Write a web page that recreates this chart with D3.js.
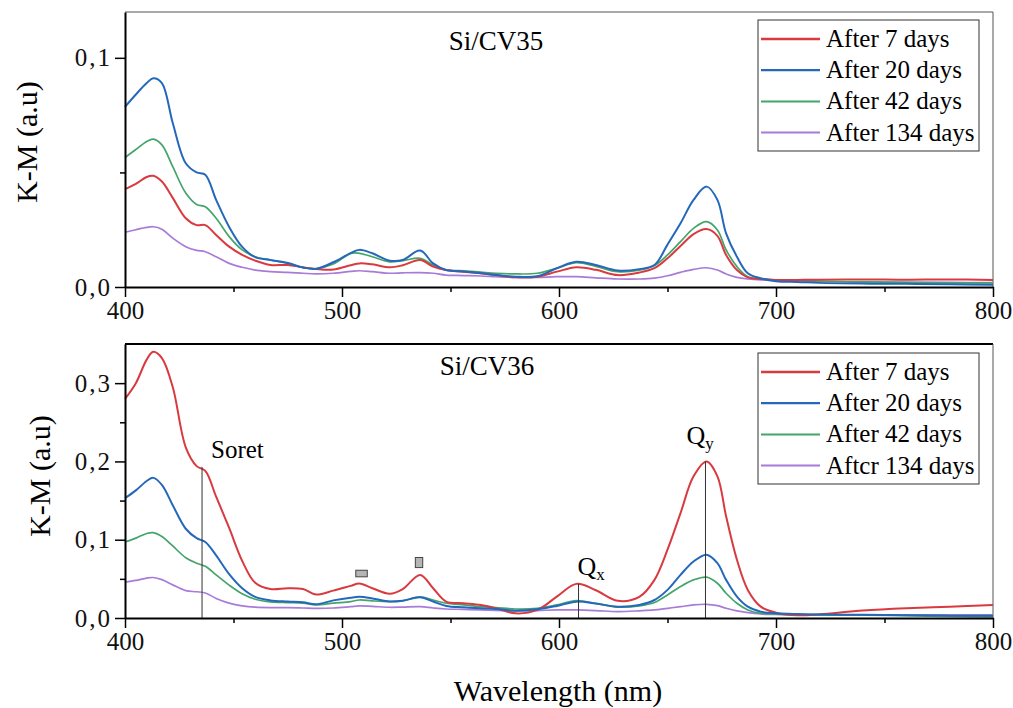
<!DOCTYPE html>
<html>
<head>
<meta charset="utf-8">
<script src="https://cdn.jsdelivr.net/npm/d3@7"></script>
</head>
<body style="margin:0">
<svg id="chart" width="1013" height="708"></svg>
<script>
// ---------------- DATA ----------------
const wavelengths = [400,405,410,413,417,422,428,433,437,442,448,454,460,467,475,482,488,496,504,508,514,522,528,536,542,548,556,564,571,580,590,599,608,617,627,637,644,650,656,662,668,673,677,682,687,693,700,710,720,740,760,780,800];

// Si/CV35
const cv35_7   = [0.0427,0.045,0.048,0.0485,0.046,0.0389,0.030,0.027,0.027,0.0227,0.0176,0.014,0.0115,0.0096,0.0096,0.0086,0.0079,0.0076,0.0095,0.0103,0.0099,0.0086,0.0095,0.0118,0.0089,0.0074,0.0067,0.006,0.0052,0.0042,0.0045,0.0067,0.0086,0.0075,0.0052,0.0063,0.0082,0.0125,0.0179,0.0231,0.0253,0.0223,0.014,0.0074,0.0042,0.0035,0.0031,0.0031,0.0032,0.0033,0.0032,0.0033,0.0031];
const cv35_20  = [0.0786,0.084,0.089,0.0911,0.089,0.0716,0.054,0.050,0.049,0.038,0.0262,0.0175,0.013,0.0118,0.0105,0.0085,0.0079,0.0108,0.0148,0.0162,0.0147,0.0115,0.0118,0.0159,0.0103,0.0074,0.0068,0.006,0.0052,0.0045,0.0047,0.0082,0.011,0.0096,0.0072,0.0078,0.0096,0.0185,0.0278,0.038,0.0438,0.038,0.0234,0.0132,0.006,0.0038,0.0025,0.0022,0.0018,0.0015,0.0014,0.0012,0.001];
const cv35_42  = [0.0565,0.060,0.0635,0.0645,0.062,0.0525,0.041,0.036,0.035,0.030,0.022,0.0162,0.0132,0.0118,0.0103,0.0085,0.008,0.0100,0.0147,0.0147,0.0132,0.011,0.0115,0.0125,0.0096,0.0074,0.0071,0.0065,0.006,0.0057,0.006,0.0082,0.0106,0.009,0.0067,0.0074,0.0094,0.014,0.0198,0.0256,0.0285,0.0249,0.0162,0.0089,0.0045,0.0035,0.003,0.003,0.0025,0.0022,0.002,0.0018,0.0018];
const cv35_134 = [0.0239,0.025,0.026,0.0263,0.0252,0.0213,0.0176,0.016,0.0154,0.0132,0.0103,0.0086,0.0074,0.0067,0.0064,0.006,0.0057,0.006,0.0068,0.0071,0.0067,0.006,0.0062,0.0063,0.006,0.0052,0.005,0.0048,0.0045,0.0042,0.0042,0.0045,0.0045,0.004,0.0035,0.0035,0.0039,0.0049,0.0064,0.0077,0.0084,0.0074,0.0057,0.0042,0.0035,0.0031,0.003,0.0028,0.0025,0.0022,0.002,0.002,0.0019];

// Si/CV36
const cv36_7   = [0.280,0.300,0.330,0.340,0.332,0.295,0.218,0.194,0.188,0.155,0.115,0.073,0.045,0.037,0.038,0.037,0.030,0.035,0.041,0.044,0.038,0.031,0.037,0.055,0.038,0.021,0.0188,0.0165,0.0124,0.006,0.0103,0.0273,0.0436,0.0355,0.022,0.027,0.0487,0.0872,0.134,0.181,0.200,0.181,0.130,0.0744,0.0359,0.0145,0.0068,0.0035,0.0047,0.0095,0.0125,0.0145,0.0167];
const cv36_20  = [0.153,0.163,0.175,0.179,0.170,0.144,0.114,0.102,0.097,0.080,0.056,0.038,0.027,0.0225,0.021,0.020,0.0175,0.0225,0.026,0.027,0.025,0.021,0.022,0.0265,0.021,0.0154,0.0137,0.0124,0.0115,0.0094,0.0111,0.0154,0.0209,0.0185,0.0145,0.0167,0.023,0.0359,0.0551,0.0722,0.0808,0.0701,0.0487,0.0273,0.0145,0.0081,0.006,0.005,0.0045,0.004,0.0035,0.003,0.003];
const cv36_42  = [0.097,0.102,0.108,0.109,0.104,0.092,0.077,0.070,0.066,0.055,0.042,0.031,0.024,0.0205,0.0197,0.019,0.0167,0.019,0.021,0.023,0.0218,0.021,0.022,0.027,0.023,0.0188,0.0167,0.0145,0.0133,0.0115,0.0124,0.0167,0.0222,0.0185,0.014,0.0154,0.0197,0.0295,0.0402,0.0487,0.0522,0.0444,0.0316,0.0188,0.0103,0.006,0.005,0.0045,0.004,0.0035,0.003,0.002,0.0015];
const cv36_134 = [0.0457,0.048,0.051,0.0517,0.049,0.0423,0.035,0.0335,0.032,0.025,0.019,0.0155,0.0138,0.0132,0.0132,0.0128,0.0124,0.0128,0.0145,0.0154,0.0148,0.0137,0.014,0.0145,0.0128,0.0115,0.011,0.0103,0.0098,0.009,0.0095,0.0103,0.0103,0.0095,0.0082,0.0092,0.0103,0.0124,0.0145,0.0167,0.0175,0.0158,0.0124,0.009,0.0068,0.0051,0.0045,0.004,0.004,0.004,0.004,0.004,0.004];

const legend35 = ["After 7 days","After 20 days","After 42 days","After 134 days"];
const legend36 = ["After 7 days","After 20 days","After 42 days","Aftcr 134 days"];
const titles = ["Si/CV35","Si/CV36"];

const xTicks = [400,500,600,700,800];
const xMinorTicks = [450,550,650,750];
const yTicks35 = [0,0.1];
const yMinor35 = [0.05];
const yTicks36 = [0,0.1,0.2,0.3];
const yMinor36 = [0.05,0.15,0.25];

// annotations (bottom panel)
const peakLabels = ["Soret","Q","Q"];
const peakSubs = ["","x","y"];
const peakWl = [435.5,609,667.5];
const peakTop = [0.193,0.0436,0.2];
// small gray markers
const markerWl = [509,535.5];
const markerLo = [0.0526,0.0644];
const markerHi = [0.061,0.0773];
const markerW = [5.3,3.4];

// ---------------- STYLE / LAYOUT ----------------
const FONT = '"Liberation Serif"';
const colors = ["#d93a3f","#2468bb","#45a46a","#a87bd8"];
const widths = [2,2,1.7,1.7];
const xL = 125, xR = 993;
const panels = [
  {top: 12, bottom: 287, ymax: 0.12, ticks: yTicks35, minor: yMinor35, series: [cv35_7,cv35_20,cv35_42,cv35_134], legend: legend35, title: titles[0], titleX: 496, titleY: 50, legTop: 20, ylabX: 37, ylabY: 142, topStroke: "#555", topW: 1},
  {top: 344, bottom: 618, ymax: 0.35, ticks: yTicks36, minor: yMinor36, series: [cv36_7,cv36_20,cv36_42,cv36_134], legend: legend36, title: titles[1], titleX: 487, titleY: 375, legTop: 353, ylabX: 50, ylabY: 476, topStroke: "#000", topW: 2}
];

const svg = d3.select("#chart");
const x = d3.scaleLinear().domain([400,800]).range([xL,xR]);
const fmtY = d => d.toFixed(1).replace(".", ",");

function txt(sel) { return sel.append("text").attr("font-family", FONT).style("font-family", FONT); }

panels.forEach((p, pi) => {
  const y = d3.scaleLinear().domain([0,p.ymax]).range([p.bottom,p.top]);
  const g = svg.append("g");

  g.append("line").attr("x1",xL).attr("x2",xR).attr("y1",p.top).attr("y2",p.top)
    .attr("stroke",p.topStroke).attr("stroke-width",p.topW);
  g.append("line").attr("x1",xR).attr("x2",xR).attr("y1",p.top).attr("y2",p.bottom)
    .attr("stroke","#555").attr("stroke-width",1);

  const line = d3.line().x((d,i)=>x(wavelengths[i])).y(d=>y(d)).curve(d3.curveCatmullRom.alpha(0.5));
  [3,2,0,1].forEach(si => {
    g.append("path").datum(p.series[si]).attr("d",line)
      .attr("fill","none").attr("stroke",colors[si]).attr("stroke-width",widths[si])
      .attr("stroke-linejoin","round");
  });

  if (pi === 1) {
    peakWl.forEach((w,i) => {
      g.append("line").attr("x1",x(w)).attr("x2",x(w)).attr("y1",y(peakTop[i])).attr("y2",y(0))
        .attr("stroke","#333").attr("stroke-width",1);
    });
    txt(g).attr("x",x(peakWl[0])+9).attr("y",y(peakTop[0])-9).attr("font-size",25).text(peakLabels[0]);
    const t1 = txt(g).attr("x",x(peakWl[1])-1).attr("y",y(peakTop[1])-9).attr("font-size",26);
    t1.append("tspan").text(peakLabels[1]);
    t1.append("tspan").attr("font-size",17).attr("dy",5).text(peakSubs[1]);
    const t2 = txt(g).attr("x",x(peakWl[2])-19).attr("y",y(peakTop[2])-17).attr("font-size",26);
    t2.append("tspan").text(peakLabels[2]);
    t2.append("tspan").attr("font-size",17).attr("dy",5).text(peakSubs[2]);
    markerWl.forEach((w,i) => {
      g.append("rect").attr("x",x(w - markerW[i]/2)).attr("width",x(w+markerW[i]/2)-x(w-markerW[i]/2))
        .attr("y",y(markerHi[i])).attr("height",y(markerLo[i])-y(markerHi[i]))
        .attr("fill","#b5b5b5").attr("stroke","#444").attr("stroke-width",1);
    });
  }

  const xAxis = d3.axisBottom(x).tickValues(xTicks).tickSize(10).tickSizeOuter(0).tickPadding(4).tickFormat(d3.format("d"));
  const xAxisMinor = d3.axisBottom(x).tickValues(xMinorTicks).tickSize(5).tickSizeOuter(0).tickFormat("");
  const gx = g.append("g").attr("transform",`translate(0,${p.bottom})`).call(xAxis);
  g.append("g").attr("transform",`translate(0,${p.bottom})`).call(xAxisMinor).select(".domain").remove();
  const yAxis = d3.axisLeft(y).tickValues(p.ticks).tickSize(10).tickSizeOuter(0).tickPadding(3).tickFormat(fmtY);
  const yAxisMinor = d3.axisLeft(y).tickValues(p.minor).tickSize(5).tickSizeOuter(0).tickFormat("");
  const gy = g.append("g").attr("transform",`translate(${xL},0)`).call(yAxis);
  g.append("g").attr("transform",`translate(${xL},0)`).call(yAxisMinor).select(".domain").remove();

  [gx, gy].forEach(a => {
    a.attr("font-family", FONT).style("font-family", FONT);
    a.select(".domain").attr("stroke","#000").attr("stroke-width",2);
    a.selectAll(".tick text").attr("font-size",25).attr("fill","#111")
      .attr("font-family", FONT).style("font-family", FONT);
  });
  g.selectAll(".tick line").attr("stroke","#000").attr("stroke-width",1.5);
  gy.selectAll(".tick text").attr("letter-spacing","2px");

  txt(g).attr("x",p.titleX).attr("y",p.titleY).attr("text-anchor","middle")
    .attr("font-size",27).text(p.title);

  txt(g).attr("transform",`translate(${p.ylabX},${p.ylabY}) rotate(-90)`)
    .attr("text-anchor","middle").attr("font-size",30).text("K-M (a.u)");

  const lg = g.append("g");
  lg.append("rect").attr("x",758).attr("y",p.legTop).attr("width",221).attr("height",131)
    .attr("fill","#fff").attr("stroke","#333").attr("stroke-width",1);
  p.legend.forEach((name,i) => {
    const cy = p.legTop + 19 + i*31.2;
    lg.append("line").attr("x1",761).attr("x2",820).attr("y1",cy).attr("y2",cy)
      .attr("stroke",colors[i]).attr("stroke-width",widths[i]+0.3);
    txt(lg).attr("x",826).attr("y",cy+8).attr("font-size",25).text(name);
  });
});

txt(svg).attr("x",558).attr("y",701).attr("text-anchor","middle")
  .attr("font-size",30).text("Wavelength (nm)");
</script>
</body>
</html>
